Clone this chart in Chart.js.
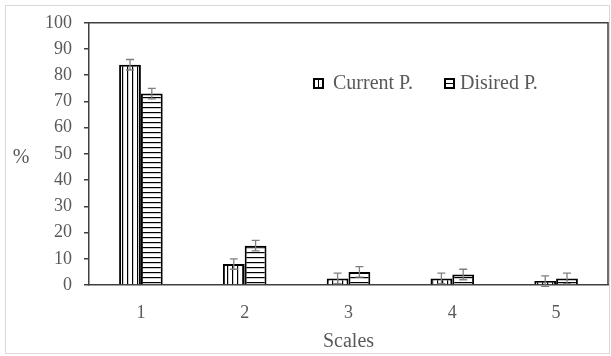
<!DOCTYPE html>
<html>
<head>
<meta charset="utf-8">
<script src="https://cdn.jsdelivr.net/npm/chart.js@4/dist/chart.umd.min.js"></script>
<style>
html,body{margin:0;padding:0;background:#fff;}
canvas{display:block;}
</style>
</head>
<body>
<canvas id="c" width="611" height="356"></canvas>
<script>
const categories = ['1', '2', '3', '4', '5'];
const seriesNames = ['Current P.', 'Disired P.'];
const currentValues = [84, 8, 2.5, 2.5, 1.5];
const desiredValues = [73, 15, 5, 4, 2.5];
const currentErrors = [2, 2, 2, 2, 2];
const desiredErrors = [2, 2, 2, 2, 2];
const yTickMin = 0, yTickMax = 100, yTickStep = 10;
const xTitle = 'Scales';
const yTitle = '%';

const TXT = '#595959';
const AX = '#404040';
const SERIF = '"Liberation Serif", "Times New Roman", serif';

function makePattern(vertical) {
  const p = document.createElement('canvas');
  p.width = 5; p.height = 5;
  const g = p.getContext('2d');
  g.fillStyle = '#fff';
  g.fillRect(0, 0, 5, 5);
  g.fillStyle = '#000';
  if (vertical) g.fillRect(2, 0, 1.2, 5);
  else g.fillRect(0, 2, 5, 1.2);
  return document.getElementById('c').getContext('2d').createPattern(p, 'repeat');
}

const errorBarPlugin = {
  id: 'errorBars',
  afterDatasetsDraw(chart) {
    const ctx = chart.ctx;
    const y = chart.scales.y;
    ctx.save();
    ctx.strokeStyle = '#808080';
    ctx.lineWidth = 1.3;
    chart.data.datasets.forEach((ds, di) => {
      const meta = chart.getDatasetMeta(di);
      meta.data.forEach((bar, i) => {
        const v = ds.data[i], e = ds.errors[i];
        const top = y.getPixelForValue(v + e);
        const bot = y.getPixelForValue(v - e);
        const x = bar.x;
        ctx.beginPath();
        ctx.moveTo(x, top); ctx.lineTo(x, bot);
        ctx.moveTo(x - 4, top); ctx.lineTo(x + 4, top);
        ctx.moveTo(x - 4, bot); ctx.lineTo(x + 4, bot);
        ctx.stroke();
      });
    });
    ctx.restore();
  }
};

const decoPlugin = {
  id: 'deco',
  beforeDraw(chart) {
    const ctx = chart.ctx;
    ctx.save();
    ctx.strokeStyle = '#d9d9d9';
    ctx.lineWidth = 1;
    ctx.strokeRect(5.5, 5.5, 604, 348);
    ctx.restore();
  },
  afterDraw(chart) {
    const ctx = chart.ctx;
    const a = chart.chartArea;
    ctx.save();
    // plot box top & right
    ctx.strokeStyle = AX;
    ctx.lineWidth = 1.5;
    ctx.beginPath();
    ctx.moveTo(a.left, a.top);
    ctx.lineTo(a.right, a.top);
    ctx.lineTo(a.right, a.bottom);
    ctx.stroke();
    // y title
    ctx.fillStyle = TXT;
    ctx.font = '20px ' + SERIF;
    ctx.textAlign = 'center';
    ctx.textBaseline = 'middle';
    ctx.fillText(yTitle, 21, 158);
    // legend
    const items = [
      {x: 313, tx: 333, vertical: true},
      {x: 444, tx: 460, vertical: false}
    ];
    const ly = 84;
    items.forEach((it, i) => {
      ctx.fillStyle = '#000';
      ctx.fillRect(it.x, ly - 6, 11, 11);
      ctx.fillStyle = '#fff';
      if (it.vertical) {
        ctx.fillRect(it.x + 2, ly - 4, 3, 7);
        ctx.fillRect(it.x + 6, ly - 4, 3, 7);
      } else {
        ctx.fillRect(it.x + 2, ly - 4, 7, 3);
        ctx.fillRect(it.x + 2, ly, 7, 3);
      }
      ctx.fillStyle = TXT;
      ctx.textAlign = 'left';
      ctx.textBaseline = 'middle';
      ctx.fillText(chart.data.datasets[i].label, it.tx, ly);
    });
    ctx.restore();
  }
};

new Chart(document.getElementById('c'), {
  type: 'bar',
  data: {
    labels: categories,
    datasets: [
      {
        label: seriesNames[0],
        data: currentValues,
        errors: currentErrors,
        backgroundColor: makePattern(true),
        borderColor: '#000',
        borderWidth: 2,
        categoryPercentage: 0.42,
        barPercentage: 1.0
      },
      {
        label: seriesNames[1],
        data: desiredValues,
        errors: desiredErrors,
        backgroundColor: makePattern(false),
        borderColor: '#000',
        borderWidth: 2,
        categoryPercentage: 0.42,
        barPercentage: 1.0
      }
    ]
  },
  options: {
    responsive: false,
    animation: false,
    devicePixelRatio: 1,
    layout: { padding: { left: 0, top: 22, right: 3, bottom: 0 } },
    plugins: {
      legend: { display: false },
      tooltip: { enabled: false }
    },
    scales: {
      x: {
        grid: { display: false, drawTicks: false },
        border: { display: true, color: AX, width: 1.5 },
        ticks: { color: TXT, font: { family: SERIF, size: 18 }, padding: 17 },
        title: { display: true, text: xTitle, color: TXT, font: { family: SERIF, size: 20 }, padding: { top: 0, bottom: 2 } },
        afterFit(s) { s.height = 71; }
      },
      y: {
        min: yTickMin,
        max: yTickMax,
        grid: { drawOnChartArea: false, drawTicks: true, tickLength: 5, color: AX, lineWidth: 1.5 },
        border: { display: true, color: AX, width: 1.5 },
        ticks: { stepSize: yTickStep, color: TXT, font: { family: SERIF, size: 18 }, padding: 12 },
        afterFit(s) { s.width = 89; }
      }
    }
  },
  plugins: [errorBarPlugin, decoPlugin]
});
</script>
</body>
</html>
